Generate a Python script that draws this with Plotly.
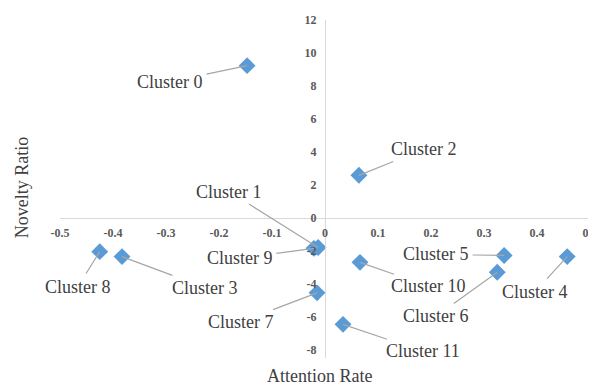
import plotly.graph_objects as go

clusters = ["Cluster 0", "Cluster 1", "Cluster 2", "Cluster 3", "Cluster 4", "Cluster 5",
            "Cluster 6", "Cluster 7", "Cluster 8", "Cluster 9", "Cluster 10", "Cluster 11"]
attention_rate = [-0.147, -0.013, 0.064, -0.383, 0.457, 0.338,
                  0.325, -0.015, -0.425, -0.021, 0.066, 0.034]
novelty_ratio = [9.23, -1.80, 2.58, -2.35, -2.35, -2.28,
                 -3.30, -4.55, -2.05, -1.85, -2.70, -6.46]
x_ticks = [-0.5, -0.4, -0.3, -0.2, -0.1, 0, 0.1, 0.2, 0.3, 0.4, 0.5]
x_tick_labels = ["-0.5", "-0.4", "-0.3", "-0.2", "-0.1", "0", "0.1", "0.2", "0.3", "0.4", "0.5"]
y_ticks = [-8, -6, -4, -2, 0, 2, 4, 6, 8, 10, 12]
y_tick_labels = ["-8", "-6", "-4", "-2", "0", "2", "4", "6", "8", "10", "12"]

# label offsets in pixels (layout only)
label_offsets = {
    "Cluster 0": (-77, 16), "Cluster 1": (-89, -56), "Cluster 2": (65, -26),
    "Cluster 3": (83, 31), "Cluster 4": (-32, 35), "Cluster 5": (-68, -1),
    "Cluster 6": (-61, 44), "Cluster 7": (-76, 29), "Cluster 8": (-22, 35),
    "Cluster 9": (-74, 10), "Cluster 10": (69, 24), "Cluster 11": (80, 27),
}

x_range = [-0.5, 0.5]
y_range = [-8.5, 12]

SERIF = "Times New Roman, Liberation Serif, DejaVu Serif, serif"

fig = go.Figure()
fig.add_trace(go.Scatter(
    x=attention_rate, y=novelty_ratio, mode="markers",
    marker=dict(symbol="diamond", size=13, color="#5b9bd5", line=dict(width=0)),
    hoverinfo="x+y", showlegend=False,
))

for name, xv, yv in zip(clusters, attention_rate, novelty_ratio):
    ax, ay = label_offsets[name]
    fig.add_annotation(
        x=xv, y=yv, xref="x", yref="y", text=name,
        showarrow=True, ax=ax, ay=ay, axref="pixel", ayref="pixel",
        arrowhead=0, arrowwidth=1.2, arrowcolor="#a6a6a6", standoff=0, startstandoff=2,
        font=dict(family=SERIF, size=18, color="#404040"),
        xanchor="center", yanchor="middle",
    )

x_pos = (0 - y_range[0]) / (y_range[1] - y_range[0])
y_pos = (0 - x_range[0]) / (x_range[1] - x_range[0])

tick_font = dict(family=SERIF, size=12, color="#595959", weight="bold")

fig.update_layout(
    width=588, height=377,
    margin=dict(l=52, r=6, t=12, b=27, autoexpand=False),
    plot_bgcolor="white", paper_bgcolor="white",
    font=dict(family=SERIF),
    xaxis=dict(
        range=x_range, tickvals=x_ticks, ticktext=x_tick_labels,
        anchor="free", position=x_pos, showline=True, linecolor="#d9d9d9", linewidth=1,
        showgrid=False, zeroline=False, ticks="outside", ticklen=4, automargin=False,
        tickcolor="rgba(0,0,0,0)", tickfont=tick_font, ticklabeloverflow="allow",
    ),
    yaxis=dict(
        range=y_range, tickvals=y_ticks, ticktext=y_tick_labels,
        anchor="free", position=y_pos, showline=True, linecolor="#d9d9d9", linewidth=1,
        showgrid=False, zeroline=False, ticks="outside", ticklen=6, automargin=False,
        tickcolor="rgba(0,0,0,0)", tickfont=tick_font, ticklabeloverflow="allow",
    ),
    annotations=list(fig.layout.annotations) + [
        dict(text="Attention Rate", xref="paper", yref="paper", x=0.49, y=-0.053,
             showarrow=False, xanchor="center", yanchor="middle",
             font=dict(family=SERIF, size=18, color="#404040")),
        dict(text="Novelty Ratio", xref="paper", yref="paper", x=-0.072, y=0.505,
             showarrow=False, textangle=-90, xanchor="center", yanchor="middle",
             font=dict(family=SERIF, size=18, color="#404040")),
    ],
)

fig.write_html("out.html")
